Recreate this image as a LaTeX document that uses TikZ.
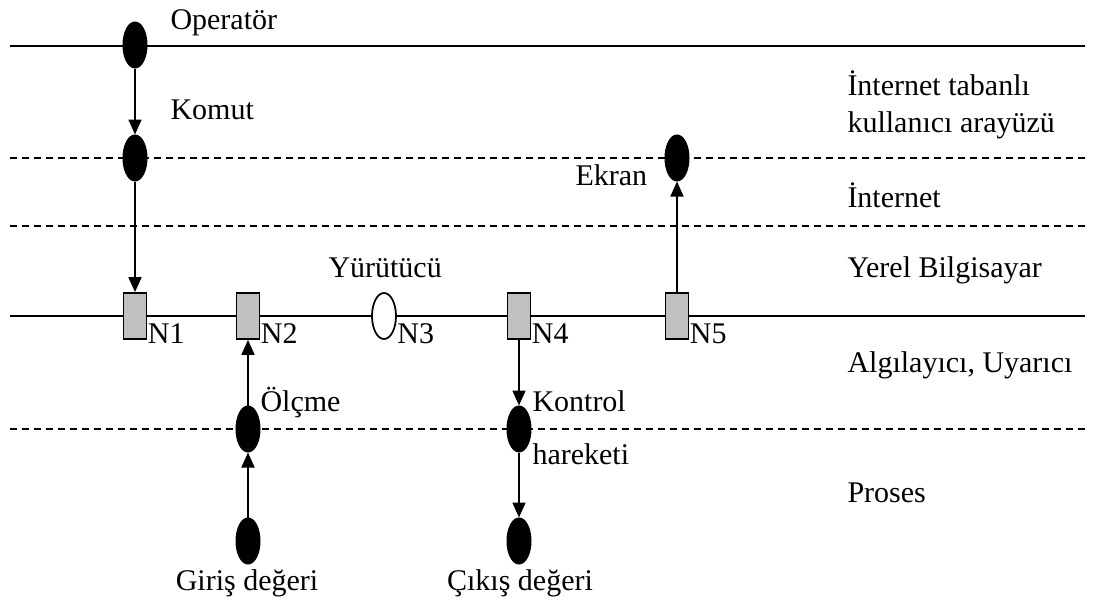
\documentclass[tikz,border=0pt]{standalone}
\usepackage{fontspec}
\setmainfont{Liberation Serif}
\usetikzlibrary{shapes.geometric, arrows.meta, calc}
\definecolor{cBox}{RGB}{192,192,192}
\tikzset{
	evt/.style    ={ellipse, draw=black, fill=black, minimum width=9.6pt, minimum height=18.4pt, inner sep=0pt},
	hole/.style   ={ellipse, draw=black, fill=white, line width=0.7pt, minimum width=9.6pt, minimum height=18.4pt, inner sep=0pt},
	nodebox/.style={rectangle, draw=black, fill=cBox, line width=0.7pt, minimum width=9.2pt, minimum height=18.4pt, inner sep=0pt},
	sig/.style    ={-{Triangle[length=6pt, width=5.2pt]}, line width=0.7pt},
	layer/.style  ={line width=0.8pt},
	txt/.style    ={anchor=base west, inner sep=0pt},
}
\begin{document}
\begin{tikzpicture}[x=0.4pt, y=-0.4pt, font=\fontsize{12}{14.8}\selectfont]
	\useasboundingbox (0,0) rectangle (1095,600);
	% layer borders
	\draw[layer] (10,46) -- (1085,46);
	\draw[layer] (10,316) -- (1085,316);
	\foreach \y in {158,226,429}
		\draw[layer, dash pattern=on 2.9pt off 1.9pt] (10,\y) -- (1085,\y);
	% events and network nodes
	\node[evt] (op) at (135,45) {};
	\node[evt] (komut) at (135,158) {};
	\node[evt] (ekran) at (677,158) {};
	\node[nodebox] (n1) at (135,316) {};
	\node[nodebox] (n2) at (248,316) {};
	\node[hole] (n3) at (384,316) {};
	\node[nodebox] (n4) at (519,316) {};
	\node[nodebox] (n5) at (677,316) {};
	\node[evt] (olcme) at (248,429) {};
	\node[evt] (kontrol) at (519,429) {};
	\node[evt] (giris) at (248,541) {};
	\node[evt] (cikis) at (519,541) {};
	\foreach \n/\t in {n1/N1, n2/N2, n3/N3, n4/N4, n5/N5}
		\node[txt] (\n-lbl) at ($(\n.east |- \n.south)+(0,4)$) {\t};
	% signal flow
	\draw[sig] (op) -- (komut);
	\draw[sig] (komut) -- (n1);
	\draw[sig] (giris) -- (olcme);
	\draw[sig] (olcme) -- (n2);
	\draw[sig] (n4) -- (kontrol);
	\draw[sig] (kontrol) -- (cikis);
	\draw[sig] (n5) -- (ekran);
	% texts
	\node[txt] (t-op) at (170,29) {Operatör};
	\node[txt] (t-komut) at (170,119) {Komut};
	\node[txt] (t-ekran) at (575,185) {Ekran};
	\node[txt] (t-yur) at (328,277) {Yürütücü};
	\node[txt] (t-olcme) at (260,411) {Ölçme};
	\node[txt] (t-kontrol) at (532,411) {Kontrol};
	\node[txt] (t-har) at (532,464) {hareketi};
	\node[anchor=base, inner sep=0pt] (t-giris) at (247,590) {Giriş değeri};
	\node[anchor=base, inner sep=0pt] (t-cikis) at (520,590) {Çıkış değeri};
	% layer names
	\node[txt, align=left] (l-arayuz) at (847,132) {İnternet tabanlı\\kullanıcı arayüzü};
	\node[txt] (l-internet) at (847,207) {İnternet};
	\node[txt] (l-yerel) at (847,277) {Yerel Bilgisayar};
	\node[txt] (l-algi) at (847,372) {Algılayıcı, Uyarıcı};
	\node[txt] (l-proses) at (847,502) {Proses};
\end{tikzpicture}
\end{document}
